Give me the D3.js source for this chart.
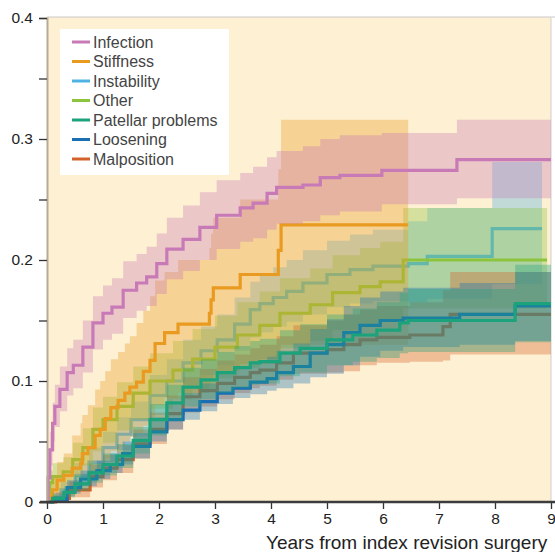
<!DOCTYPE html>
<html>
<head>
<meta charset="utf-8">
<script src="https://cdn.jsdelivr.net/npm/d3@7"></script>
<style>
  body { margin: 0; background: #fff; }
  text { font-family: "Liberation Sans", Arial, sans-serif; }
</style>
</head>
<body>
<div class="chart"></div>
<script>
// cumulative incidence of re-revision by reason, with confidence bands

var width = 555;
var height = 552;

var categories = ["Infection", "Stiffness", "Instability", "Other", "Patellar problems", "Loosening", "Malposition"];
var xTicks = [0, 1, 2, 3, 4, 5, 6, 7, 8, 9];
var yTicks = [0, 0.1, 0.2, 0.3, 0.4];
var yMinorTicks = [0.05, 0.15, 0.25, 0.35];

// rows: [years, estimate, lower, upper]
var infection = [
  [0, 0, 0, 0], [0.02, 0.02, 0.01, 0.03], [0.05, 0.043, 0.03, 0.058], [0.1, 0.065, 0.05, 0.082],
  [0.14, 0.079, 0.062, 0.097], [0.23, 0.093, 0.075, 0.112], [0.36, 0.107, 0.088, 0.127],
  [0.47, 0.113, 0.094, 0.134], [0.64, 0.128, 0.107, 0.15], [0.82, 0.148, 0.126, 0.17],
  [1.0, 0.156, 0.134, 0.179], [1.16, 0.161, 0.139, 0.185], [1.36, 0.175, 0.152, 0.199],
  [1.6, 0.181, 0.158, 0.205], [1.78, 0.186, 0.162, 0.211], [1.96, 0.197, 0.172, 0.222],
  [2.14, 0.209, 0.184, 0.235], [2.43, 0.217, 0.191, 0.245], [2.73, 0.227, 0.2, 0.256],
  [3.03, 0.237, 0.209, 0.266], [3.45, 0.243, 0.215, 0.272], [3.68, 0.247, 0.218, 0.277],
  [3.93, 0.255, 0.225, 0.285], [4.1, 0.26, 0.23, 0.29], [4.57, 0.262, 0.232, 0.294],
  [4.88, 0.268, 0.237, 0.3], [5.23, 0.27, 0.24, 0.303], [5.98, 0.274, 0.246, 0.305],
  [7.32, 0.283, 0.251, 0.316], [9, 0.283, 0.251, 0.316]
];
var stiffness = [
  [0, 0, 0, 0], [0.08, 0.005, 0, 0.015], [0.1, 0.01, 0.002, 0.022], [0.18, 0.018, 0.006, 0.033],
  [0.3, 0.022, 0.008, 0.04], [0.45, 0.028, 0.011, 0.055], [0.6, 0.032, 0.013, 0.065],
  [0.63, 0.04, 0.018, 0.072], [0.73, 0.045, 0.021, 0.08], [0.86, 0.055, 0.027, 0.093],
  [0.95, 0.06, 0.03, 0.1], [1.04, 0.069, 0.036, 0.108], [1.14, 0.078, 0.042, 0.118],
  [1.27, 0.084, 0.046, 0.124], [1.39, 0.09, 0.05, 0.131], [1.48, 0.095, 0.054, 0.137],
  [1.6, 0.099, 0.057, 0.148], [1.72, 0.108, 0.063, 0.158], [1.84, 0.117, 0.07, 0.17],
  [1.93, 0.131, 0.08, 0.183], [2.1, 0.14, 0.086, 0.19], [2.34, 0.147, 0.09, 0.2],
  [2.9, 0.156, 0.096, 0.21], [2.93, 0.167, 0.102, 0.222], [2.97, 0.177, 0.108, 0.235],
  [3.45, 0.188, 0.114, 0.25], [4.13, 0.208, 0.122, 0.275], [4.18, 0.229, 0.13, 0.316],
  [6.45, 0.229, 0.13, 0.316]
];
var instability = [
  [0, 0, 0, 0], [0.1, 0.004, 0.001, 0.008], [0.25, 0.01, 0.005, 0.017], [0.5, 0.022, 0.014, 0.032],
  [0.75, 0.033, 0.023, 0.045], [1.0, 0.045, 0.033, 0.058], [1.25, 0.056, 0.043, 0.07],
  [1.5, 0.068, 0.054, 0.083], [1.84, 0.088, 0.072, 0.105], [2.14, 0.1, 0.083, 0.118],
  [2.43, 0.115, 0.097, 0.134], [2.75, 0.125, 0.105, 0.145], [3.04, 0.134, 0.113, 0.155],
  [3.35, 0.147, 0.125, 0.169], [3.63, 0.159, 0.136, 0.182], [3.8, 0.164, 0.14, 0.188],
  [4.04, 0.169, 0.145, 0.194], [4.28, 0.174, 0.149, 0.2], [4.57, 0.181, 0.155, 0.208],
  [5.0, 0.188, 0.161, 0.216], [5.41, 0.192, 0.164, 0.221], [5.82, 0.195, 0.166, 0.225],
  [6.45, 0.197, 0.165, 0.232], [6.79, 0.203, 0.168, 0.243], [7.95, 0.226, 0.18, 0.281],
  [8.84, 0.226, 0.18, 0.281]
];
var other = [
  [0, 0, 0, 0], [0.03, 0.008, 0.002, 0.016], [0.05, 0.016, 0.007, 0.026], [0.1, 0.021, 0.01, 0.032],
  [0.29, 0.025, 0.013, 0.037], [0.46, 0.035, 0.021, 0.049], [0.64, 0.045, 0.03, 0.061],
  [0.82, 0.06, 0.042, 0.078], [1.0, 0.068, 0.049, 0.087], [1.25, 0.079, 0.059, 0.099],
  [1.54, 0.09, 0.068, 0.112], [1.84, 0.1, 0.077, 0.123], [2.25, 0.109, 0.085, 0.133],
  [2.6, 0.118, 0.093, 0.143], [3.0, 0.128, 0.102, 0.154], [3.4, 0.138, 0.111, 0.165],
  [3.8, 0.146, 0.118, 0.174], [4.16, 0.156, 0.127, 0.185], [4.7, 0.163, 0.133, 0.193],
  [5.1, 0.173, 0.142, 0.204], [5.59, 0.178, 0.146, 0.21], [5.95, 0.182, 0.149, 0.215],
  [6.36, 0.2, 0.16, 0.243], [8.93, 0.2, 0.16, 0.243]
];
var patellar = [
  [0, 0, 0, 0], [0.1, 0.003, 0.001, 0.007], [0.3, 0.008, 0.004, 0.013], [0.5, 0.015, 0.009, 0.022],
  [0.75, 0.024, 0.016, 0.032], [1.0, 0.031, 0.022, 0.04], [1.25, 0.038, 0.028, 0.048],
  [1.54, 0.051, 0.04, 0.062], [1.84, 0.068, 0.055, 0.081], [2.14, 0.082, 0.067, 0.097],
  [2.43, 0.095, 0.079, 0.111], [2.75, 0.101, 0.085, 0.118], [3.04, 0.107, 0.09, 0.124],
  [3.35, 0.111, 0.094, 0.129], [3.63, 0.115, 0.097, 0.133], [3.8, 0.116, 0.098, 0.135],
  [4.16, 0.123, 0.104, 0.142], [4.52, 0.127, 0.107, 0.147], [5.0, 0.134, 0.113, 0.155],
  [5.46, 0.138, 0.116, 0.16], [5.89, 0.142, 0.119, 0.165], [6.3, 0.148, 0.123, 0.173],
  [6.45, 0.15, 0.124, 0.176], [8.36, 0.164, 0.132, 0.196], [9, 0.164, 0.132, 0.196]
];
var loosening = [
  [0, 0, 0, 0], [0.1, 0.002, 0, 0.005], [0.36, 0.012, 0.007, 0.018], [0.6, 0.019, 0.013, 0.026],
  [0.89, 0.026, 0.019, 0.034], [1.13, 0.031, 0.024, 0.04], [1.35, 0.04, 0.031, 0.05],
  [1.54, 0.046, 0.036, 0.057], [1.84, 0.058, 0.05, 0.07], [2.14, 0.068, 0.06, 0.081],
  [2.43, 0.076, 0.068, 0.09], [2.73, 0.083, 0.075, 0.098], [3.04, 0.09, 0.081, 0.106],
  [3.32, 0.094, 0.086, 0.111], [3.63, 0.099, 0.089, 0.116], [3.93, 0.102, 0.092, 0.12],
  [4.1, 0.107, 0.094, 0.125], [4.4, 0.112, 0.098, 0.131], [4.7, 0.123, 0.103, 0.143],
  [5.0, 0.13, 0.106, 0.151], [5.3, 0.14, 0.113, 0.162], [5.59, 0.146, 0.12, 0.169],
  [5.95, 0.15, 0.125, 0.174], [6.36, 0.152, 0.128, 0.177], [7.37, 0.155, 0.13, 0.181],
  [8.36, 0.162, 0.133, 0.19], [9, 0.162, 0.133, 0.19]
];
var malposition = [
  [0, 0, 0, 0], [0.15, 0.003, 0, 0.008], [0.4, 0.01, 0.004, 0.017], [0.77, 0.021, 0.012, 0.031],
  [1.0, 0.028, 0.018, 0.039], [1.25, 0.035, 0.024, 0.047], [1.54, 0.048, 0.036, 0.06],
  [1.84, 0.06, 0.048, 0.074], [2.14, 0.073, 0.06, 0.088], [2.43, 0.087, 0.074, 0.103],
  [2.73, 0.092, 0.079, 0.11], [3.04, 0.098, 0.085, 0.117], [3.35, 0.103, 0.09, 0.122],
  [3.63, 0.107, 0.094, 0.127], [3.8, 0.109, 0.096, 0.13], [4.1, 0.115, 0.101, 0.137],
  [4.4, 0.123, 0.106, 0.146], [5.0, 0.126, 0.107, 0.15], [5.3, 0.13, 0.108, 0.155],
  [5.59, 0.134, 0.113, 0.159], [5.89, 0.136, 0.115, 0.162], [6.48, 0.138, 0.116, 0.165],
  [7.07, 0.145, 0.117, 0.175], [7.2, 0.155, 0.122, 0.19], [9, 0.155, 0.122, 0.19]
];

var seriesData = {
  "Infection": infection, "Stiffness": stiffness, "Instability": instability, "Other": other,
  "Patellar problems": patellar, "Loosening": loosening, "Malposition": malposition
};
var colors = {
  "Infection": "#c87ab6", "Stiffness": "#e99b21", "Instability": "#4fb2e5", "Other": "#8dc43e",
  "Patellar problems": "#1ca37c", "Loosening": "#1a6fb3", "Malposition": "#d3622a"
};
// which series is painted first (bands mute the lines painted under them)
var drawOrder = ["Instability", "Other", "Stiffness", "Malposition", "Loosening", "Patellar problems", "Infection"];

var svg = d3.select('.chart').append('svg')
    .attr('width', width)
    .attr('height', height);

var x = d3.scaleLinear().domain([0, 9]).range([47, 551]);
var y = d3.scaleLinear().domain([0, 0.4]).range([502, 18]);

// plot background
svg.append('rect')
    .attr('x', x(0)).attr('y', y(0.4) - 1)
    .attr('width', x(9) - x(0)).attr('height', y(0) - y(0.4) + 1)
    .attr('fill', '#fef0d2');
svg.append('line')
    .attr('x1', x(0)).attr('x2', width).attr('y1', y(0.4) - 1).attr('y2', y(0.4) - 1)
    .attr('stroke', '#c8c8c8').attr('stroke-width', 1);
svg.append('line')
    .attr('x1', x(9)).attr('x2', x(9)).attr('y1', y(0.4)).attr('y2', y(0))
    .attr('stroke', '#d0d0d0').attr('stroke-width', 1);

var band = d3.area()
    .curve(d3.curveStepAfter)
    .x(function (d) { return x(d[0]); })
    .y0(function (d) { return y(d[2]); })
    .y1(function (d) { return y(d[3]); });

var line = d3.line()
    .curve(d3.curveStepAfter)
    .x(function (d) { return x(d[0]); })
    .y(function (d) { return y(d[1]); });

drawOrder.forEach(function (name) {
  var g = svg.append('g').attr('class', 'series');
  g.append('path')
      .datum(seriesData[name])
      .attr('d', band)
      .attr('fill', colors[name])
      .attr('fill-opacity', 0.35);
  g.append('path')
      .datum(seriesData[name])
      .attr('d', line)
      .attr('fill', 'none')
      .attr('stroke', colors[name])
      .attr('stroke-width', 3.2);
});

// y axis
var yAxis = svg.append('g')
    .attr('transform', 'translate(' + x(0) + ',0)')
    .call(d3.axisLeft(y).tickValues(yTicks).tickSize(8).tickPadding(6)
      .tickFormat(function (d) { return d === 0 ? '0' : d3.format('.1f')(d); }));
svg.append('g')
    .attr('transform', 'translate(' + x(0) + ',0)')
    .call(d3.axisLeft(y).tickValues(yMinorTicks).tickSize(8).tickFormat(''))
    .select('.domain').remove();
yAxis.select('.domain').attr('stroke', '#b5aa95').attr('stroke-width', 2);
svg.selectAll('.tick line').attr('stroke', '#333').attr('stroke-width', 1.3);
yAxis.selectAll('text').attr('font-size', 15.5).attr('fill', '#222')
    .attr('font-family', '"Liberation Sans", Arial, sans-serif');

// x axis
var xAxis = svg.append('g')
    .attr('transform', 'translate(0,' + y(0) + ')')
    .call(d3.axisBottom(x).tickValues(xTicks).tickSize(7).tickPadding(4).tickFormat(d3.format('d')));
xAxis.select('.domain').remove();
xAxis.append('line')
    .attr('x1', 40).attr('x2', width).attr('y1', 0).attr('y2', 0)
    .attr('stroke', '#3c3c3c').attr('stroke-width', 2.5);
xAxis.selectAll('.tick line').attr('stroke', '#333').attr('stroke-width', 1.3);
xAxis.selectAll('text').attr('font-size', 15.5).attr('fill', '#222')
    .attr('font-family', '"Liberation Sans", Arial, sans-serif');

svg.append('text')
    .attr('x', 266).attr('y', 549)
    .attr('font-size', 19).attr('fill', '#222')
    .text('Years from index revision surgery');

// legend
var legend = svg.append('g').attr('class', 'legend');
legend.append('rect')
    .attr('x', 60).attr('y', 29).attr('width', 169).attr('height', 146)
    .attr('fill', '#fff');
var rows = legend.selectAll('.row')
    .data(categories)
  .enter().append('g')
    .attr('class', 'row')
    .attr('transform', function (d, i) { return 'translate(72,' + (42 + i * 19.5) + ')'; });
rows.append('line')
    .attr('x1', 0).attr('x2', 18).attr('y1', 0).attr('y2', 0)
    .attr('stroke', function (d) { return colors[d]; })
    .attr('stroke-width', 3);
rows.append('text')
    .attr('x', 21).attr('dy', '0.36em')
    .attr('font-size', 16).attr('fill', '#444')
    .text(function (d) { return d; });
</script>
</body>
</html>
